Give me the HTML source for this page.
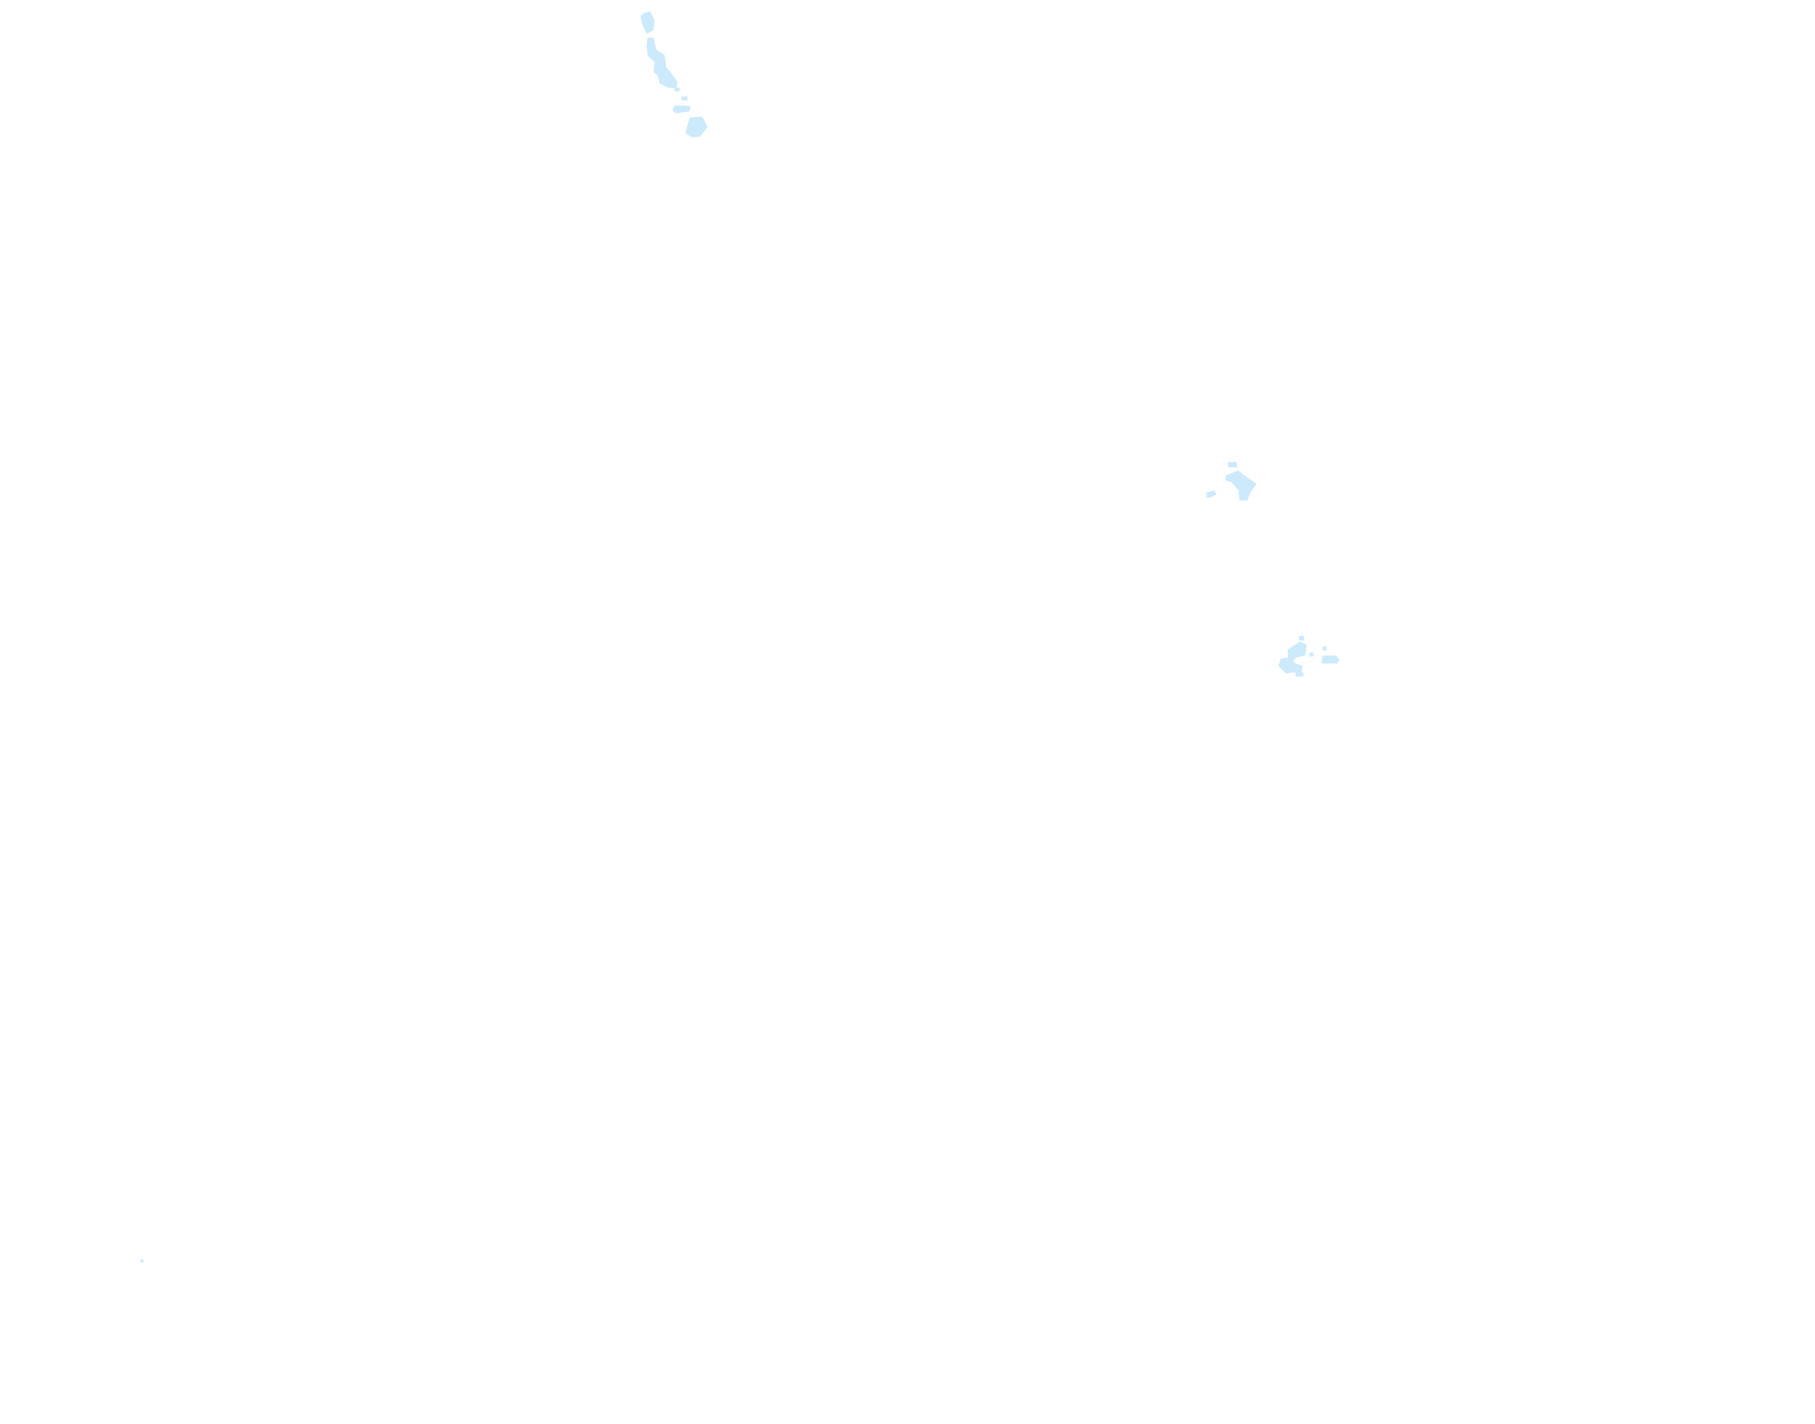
<!DOCTYPE html>
<html><head><meta charset="utf-8"><style>html,body{margin:0;padding:0;background:#fff;width:1815px;height:1424px;overflow:hidden}</style></head>
<body>
<svg width="1815" height="1424" viewBox="0 0 1815 1424" xmlns="http://www.w3.org/2000/svg">
<g fill="#cdeafd" stroke="#cdeafd" stroke-width="1" stroke-linejoin="round">
<polygon points="645,13 650,12 654,20 653,30 647,33 643,25 641,16"/>
<polygon points="648,38 653,38 656,50 664,55 666,68 670,72 677,82 676,88 668,87 660,83 658,75 654,72 655,62 648,55 647,45"/>
<rect x="675" y="88" width="4" height="3"/>
<rect x="682" y="97" width="5" height="3"/>
<polygon points="675,106 684,106 690,107 689,111 682,112 676,113 673,110"/>
<polygon points="690,118 702,117 707,127 700,136 692,137 686,133 688,125"/>
<polygon points="1228,463 1236,462 1237,467 1229,467"/>
<polygon points="1226,476 1238,471 1246,477 1256,484 1250,492 1247,500 1240,500 1239,490 1232,482 1226,480"/>
<polygon points="1207,493 1214,491 1216,494 1210,497 1207,497"/>
<polygon points="1299,637 1303,636 1304,640 1300,640"/>
<polygon points="1288,650 1300,642 1306,645 1305,655 1296,657 1289,665"/>
<polygon points="1281,659 1290,658 1295,664 1302,666 1301,672 1292,672 1286,673 1279,666"/>
<rect x="1296" y="673" width="7" height="3"/>
<polygon points="1323,656 1336,656 1339,660 1337,663 1322,663"/>
<rect x="1310" y="653" width="3" height="3"/>
<rect x="1323" y="647" width="3" height="3"/>
<rect x="141" y="1260" width="2" height="2"/>
</g>
</svg>
</body></html>
